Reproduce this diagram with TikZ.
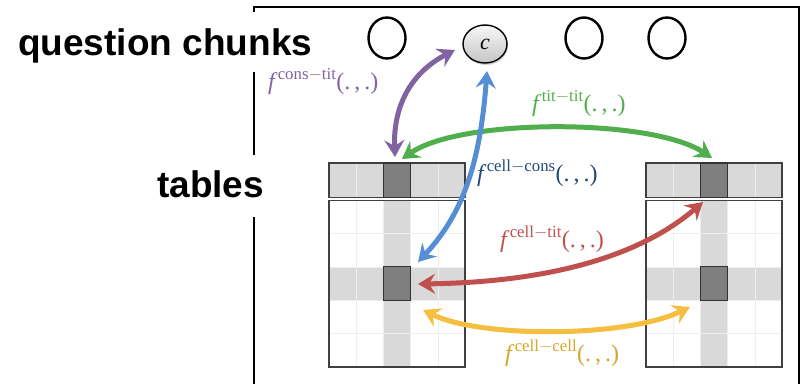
\documentclass[tikz,border=0pt]{standalone}
\usepackage{fontspec}
\setmainfont{Liberation Serif}
\newfontfamily\headfont{Liberation Sans}
\usetikzlibrary{arrows.meta,shapes.geometric,shadows}

\definecolor{relpurple}{RGB}{128,100,162}
\definecolor{relgreen}{RGB}{80,175,76}
\definecolor{relblue}{RGB}{86,142,214}
\definecolor{relnavy}{RGB}{34,72,124}
\definecolor{relred}{RGB}{192,80,77}
\definecolor{relyellow}{RGB}{246,190,62}
\definecolor{labyellow}{RGB}{214,165,42}
\definecolor{hlgray}{RGB}{217,217,217}
\definecolor{cellgray}{RGB}{127,127,127}
\definecolor{gridline}{RGB}{238,238,238}
\definecolor{tableedge}{RGB}{64,64,64}

\tikzset{
  heading/.style={font=\headfont\bfseries\fontsize{37}{40}\selectfont, anchor=base west, inner sep=0pt},
  chunk/.style={ellipse, draw=black, line width=2.4pt, minimum width=37pt, minimum height=41pt, inner sep=0pt},
  focuschunk/.style={ellipse, draw=black, line width=1.4pt, minimum width=44pt, minimum height=38pt,
    inner sep=0pt, top color=gray!6, bottom color=gray!45, drop shadow={opacity=0.35, shadow xshift=1pt, shadow yshift=-2pt}},
  darkcell/.style={draw=black!80, line width=1.2pt, fill=cellgray, minimum width=27.2pt, inner sep=0pt},
  rel/.style={line width=5pt, {Stealth[length=17pt,width=20pt,inset=6pt]}-{Stealth[length=17pt,width=20pt,inset=6pt]}},
  flabel/.style={anchor=base west, inner sep=0pt, font=\fontsize{24}{28}\selectfont},
  frameline/.style={line width=2.4pt, black}
}

% relation label: italic f, upright superscript, argument placeholder
\newcommand{\relf}[1]{$\mathit{f}^{\,\mathrm{#1}}$(.\,,\,.)}

% one table: gray header, highlighted column and row, two dark cells
\newcommand{\datatable}[2]{%
  \begin{scope}[xshift=#1pt]
    \fill[hlgray] (0,163) rectangle (136,197.8);
    \fill[hlgray] (54.4,200.2) rectangle (81.6,367);
    \fill[hlgray] (0,266.8) rectangle (136,300.2);
    \foreach \gx in {27.2,54.4,81.6,108.8}
      \draw[gridline, line width=0.6pt] (\gx,163) -- (\gx,197.8) (\gx,200.2) -- (\gx,367);
    \foreach \gy in {233.4,266.8,300.2,333.6}
      \draw[gridline, line width=0.6pt] (0,\gy) -- (136,\gy);
    \draw[tableedge, line width=1.2pt] (0,163) rectangle (136,197.8);
    \draw[tableedge, line width=1.2pt] (0,200.2) rectangle (136,367);
    \node[darkcell, minimum height=34.8pt] (#2h) at (68,180.4) {};
    \node[darkcell, minimum height=33.4pt] (#2c) at (68,283.5) {};
  \end{scope}}

\begin{document}
\begin{tikzpicture}[x=1pt, y=-1pt]
  \useasboundingbox (0,0) rectangle (802,384);

  % frame around the drawing area
  \draw[frameline] (253,7) -- (799,7) -- (799,384);
  \draw[frameline] (254,7) -- (254,12);
  \draw[frameline] (254,72) -- (254,155);
  \draw[frameline] (254,217) -- (254,384);

  % row headings
  \node[heading] (qlab) at (18,55) {question chunks};
  \node[heading] (tlab) at (157,197) {tables};

  % question chunks
  \node[chunk] (q1) at (387,38) {};
  \node[focuschunk] (c) at (485,44) {\fontsize{22}{24}\selectfont$\mathit{c}$};
  \node[chunk] (q3) at (584,38) {};
  \node[chunk] (q4) at (667,38) {};

  % tables
  \datatable{329}{L}
  \datatable{646}{R}

  % end points of the relations
  \coordinate (pT) at (455,50);
  \coordinate (pB) at (395,157);
  \coordinate (bT) at (487,71);
  \coordinate (bB) at (418,262);
  \coordinate (gL) at (402,159);
  \coordinate (gR) at (712,158);
  \coordinate (rL) at (418,284);
  \coordinate (rR) at (703,202);
  \coordinate (yL) at (423,310);
  \coordinate (yR) at (690,307);

  % relations
  \draw[rel, relgreen] (gL) .. controls (460,118) and (652,118) .. (gR);
  \draw[rel, relpurple] (pT) .. controls (412,72) and (393,105) .. (pB);
  \draw[rel, relblue] (bT) .. controls (480,165) and (462,215) .. (bB);
  \draw[rel, relred] (rL) .. controls (560,282) and (645,252) .. (rR);
  \draw[rel, relyellow] (yL) .. controls (480,338) and (625,338) .. (yR);

  % relation labels
  \node[flabel, text=relpurple] (lct) at (268,89) {\relf{cons-tit}};
  \node[flabel, text=relgreen] (ltt) at (532,111) {\relf{tit-tit}};
  \node[flabel, text=relnavy] (lcc) at (477,181) {\relf{cell-cons}};
  \node[flabel, text=relred] (lcti) at (500,247) {\relf{cell-tit}};
  \node[flabel, text=labyellow] (lcell) at (505,361) {\relf{cell-cell}};
\end{tikzpicture}
\end{document}
